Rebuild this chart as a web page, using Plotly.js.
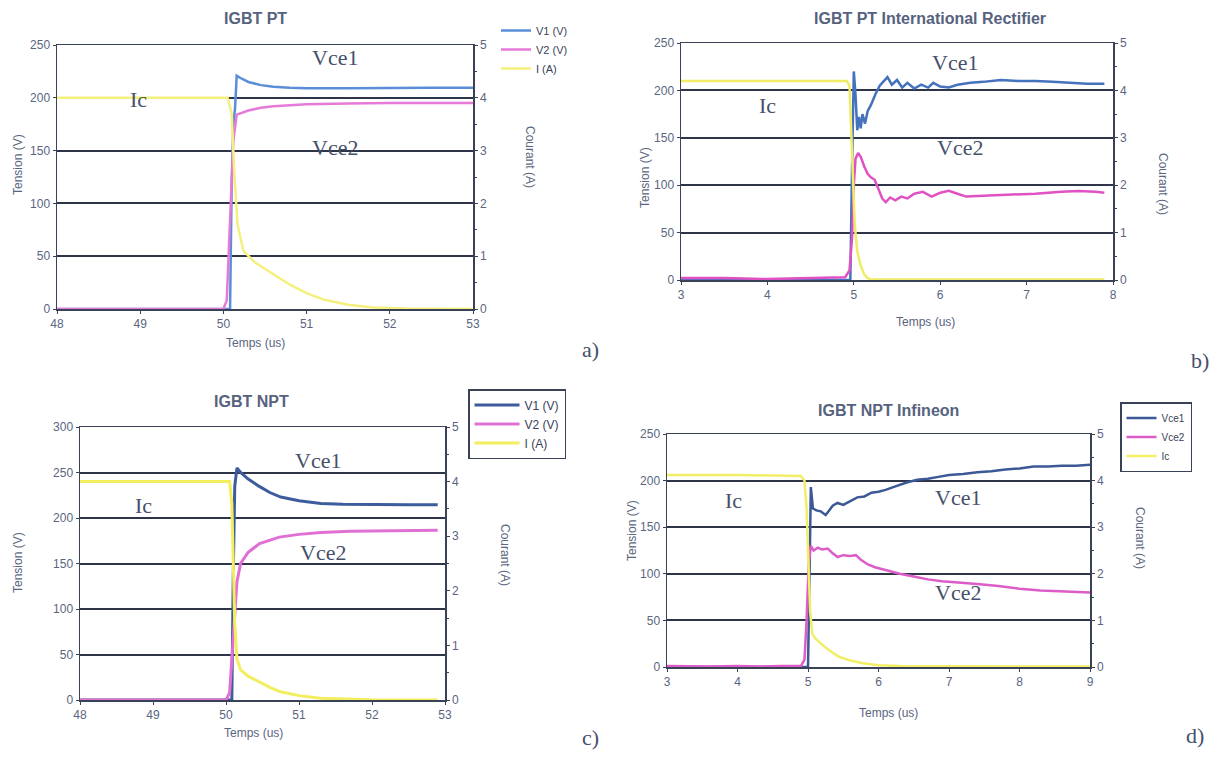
<!DOCTYPE html>
<html>
<head>
<meta charset="utf-8">
<script src="https://cdn.plot.ly/plotly-3.0.1.min.js"></script>
<style>html,body{margin:0;padding:0;background:#fff;}#chart{width:1221px;height:758px;}</style>
</head>
<body>
<div id="chart"></div>
<script>
// ---------- Data ----------
// Panel a: IGBT PT
const a_v1_t = [48, 50.08, 50.1, 50.12, 50.14, 50.16, 50.2, 50.3, 50.45, 50.6, 50.8, 51.0, 51.5, 52.0, 52.5, 53.0];
const a_v1_v = [0, 0, 120, 175, 190, 221, 219, 215, 212, 210.5, 209.5, 209, 209, 209.5, 209.5, 209.5];
const a_v2_t = [48, 49.0, 50.0, 50.04, 50.08, 50.12, 50.16, 50.2, 50.3, 50.45, 50.6, 50.8, 51.0, 51.5, 52.0, 53.0];
const a_v2_v = [0, 0, 0, 8, 80, 160, 184, 185, 188, 190.5, 192, 193, 194, 194.5, 195, 195];
const a_i_t = [48, 49, 50.05, 50.1, 50.13, 50.17, 50.2, 50.24, 50.38, 50.6, 50.8, 51.0, 51.2, 51.5, 51.8, 52.2, 53.0];
const a_i_v = [4.0, 4.0, 4.0, 3.7, 2.6, 1.6, 1.4, 1.1, 0.88, 0.66, 0.46, 0.3, 0.18, 0.08, 0.03, 0.01, 0];

// Panel b: IGBT PT International Rectifier
const b_v1_t = [3, 4.96, 4.98, 5.0, 5.02, 5.04, 5.06, 5.08, 5.1, 5.13, 5.16, 5.2, 5.25, 5.3, 5.35, 5.39, 5.44, 5.5, 5.56, 5.62, 5.7, 5.78, 5.86, 5.92, 6.0, 6.1, 6.2, 6.35, 6.5, 6.7, 6.9, 7.1, 7.3, 7.5, 7.7, 7.9];
const b_v1_v = [0, 0, 120, 220, 195, 158, 172, 160, 175, 165, 178, 185, 196, 205, 210, 214, 206, 211, 203, 208, 202, 206, 203, 208, 204, 203, 206, 208, 209, 211, 210, 210, 209, 208, 207, 207];
const b_v2_t = [3, 3.5, 4.0, 4.5, 4.9, 4.95, 4.98, 5.0, 5.02, 5.05, 5.08, 5.12, 5.16, 5.2, 5.24, 5.28, 5.33, 5.37, 5.42, 5.48, 5.55, 5.62, 5.7, 5.8, 5.9, 6.0, 6.1, 6.2, 6.3, 6.5, 6.8, 7.1, 7.4, 7.6, 7.8, 7.9];
const b_v2_v = [2, 2, 1, 2, 3, 10, 45, 100, 128, 134, 130, 120, 112, 108, 106, 97, 86, 82, 87, 84, 88, 86, 91, 93, 88, 92, 94, 91, 88, 89, 90, 91, 93, 94, 93, 92];
const b_i_t = [3, 4.0, 4.92, 4.95, 4.98, 5.01, 5.04, 5.08, 5.12, 5.16, 5.2, 6, 7, 7.9];
const b_i_v = [4.2, 4.2, 4.2, 4.1, 2.8, 1.2, 0.6, 0.3, 0.12, 0.04, 0.01, 0.01, 0.01, 0.01];

// Panel c: IGBT NPT
const c_v1_t = [48, 50.08, 50.1, 50.12, 50.15, 50.2, 50.3, 50.45, 50.6, 50.75, 51.0, 51.3, 51.6, 52.0, 52.5, 52.9];
const c_v1_v = [0, 0, 140, 235, 255, 250, 243, 235, 228, 223, 219, 216, 215, 214.5, 214.5, 214.5];
const c_v2_t = [48, 49, 50.0, 50.05, 50.1, 50.15, 50.2, 50.3, 50.46, 50.6, 50.73, 51.0, 51.3, 51.7, 52.2, 52.9];
const c_v2_v = [0, 0, 0, 8, 70, 130, 150, 162, 172, 176, 179, 182, 184, 185.5, 186, 186.5];
const c_i_t = [48, 49, 50.05, 50.08, 50.1, 50.12, 50.15, 50.2, 50.3, 50.45, 50.6, 50.75, 51.0, 51.3, 51.6, 52.0, 52.9];
const c_i_v = [4.0, 4.0, 4.0, 3.6, 2.6, 1.4, 0.75, 0.55, 0.44, 0.33, 0.23, 0.15, 0.08, 0.03, 0.015, 0.005, 0];

// Panel d: IGBT NPT Infineon
const d_v1_t = [3, 5.0, 5.02, 5.04, 5.07, 5.12, 5.18, 5.25, 5.3, 5.35, 5.42, 5.5, 5.6, 5.7, 5.8, 5.9, 6.0, 6.1, 6.25, 6.4, 6.55, 6.7, 6.85, 7.0, 7.2, 7.4, 7.6, 7.8, 8.0, 8.2, 8.4, 8.6, 8.8, 9.0];
const d_v1_v = [0, 0, 90, 193, 170, 168, 167, 163, 168, 173, 176, 174, 178, 182, 183, 187, 188, 190, 194, 198, 201, 202, 204, 206, 207, 209, 210, 212, 213, 215, 215, 216, 216, 217];
const d_v2_t = [3, 3.3, 3.6, 4.0, 4.3, 4.6, 4.9, 4.95, 4.98, 5.01, 5.04, 5.08, 5.14, 5.2, 5.28, 5.35, 5.42, 5.5, 5.6, 5.68, 5.75, 5.85, 5.95, 6.1, 6.3, 6.5, 6.7, 6.9, 7.1, 7.4, 7.7, 8.0, 8.3, 8.6, 9.0];
const d_v2_v = [1, 0.5, 0.5, 1, 0.5, 1, 1, 8, 50, 110, 130, 125, 128, 126, 127, 122, 118, 120, 119, 120, 115, 110, 107, 104, 100, 97, 94, 92, 91, 89, 87, 84, 82, 81, 80];
const d_i_t = [3, 4, 4.9, 4.95, 4.98, 5.0, 5.03, 5.06, 5.1, 5.2, 5.3, 5.44, 5.6, 5.78, 6.0, 6.3, 7, 8, 9];
const d_i_v = [4.12, 4.12, 4.1, 4.0, 3.4, 2.4, 1.2, 0.72, 0.62, 0.48, 0.36, 0.22, 0.14, 0.08, 0.04, 0.02, 0.01, 0.01, 0.01];

// Labels
const titles = ["IGBT PT", "IGBT PT International Rectifier", "IGBT NPT", "IGBT NPT Infineon"];
const names_abc = ["V1 (V)", "V2 (V)", "I (A)"];
const names_d = ["Vce1", "Vce2", "Ic"];

// ---------- Styling ----------
const W = 1221, H = 758;
const fx = p => p / W, fy = p => 1 - p / H;
const AX = '#3a4258', GRID = '#2e3548', TXT = '#5a6580';
const TF = {family: 'Liberation Sans, Arial, sans-serif', size: 12, color: TXT};
const SERIF = {family: 'Liberation Serif, Times New Roman, serif', size: 22, color: '#46506a'};

function xax(l, r, range, dtick, anchor) {
  return {domain: [fx(l), fx(r)], range: range, dtick: dtick, tick0: range[0], anchor: anchor, showline: true, linecolor: AX, linewidth: 1.5,
    mirror: true, showgrid: false, zeroline: false, ticks: 'outside', ticklen: 3, tickcolor: AX, tickfont: TF, fixedrange: true};
}
function yax(t, b, range, dtick, anchor) {
  return {domain: [fy(b), fy(t)], range: range, dtick: dtick, tick0: 0, anchor: anchor, showline: true, linecolor: AX, linewidth: 1.5,
    showgrid: true, gridcolor: GRID, gridwidth: 2, zeroline: false, ticks: 'outside', ticklen: 3, tickcolor: AX, tickfont: TF, fixedrange: true};
}
function y2ax(over, anchor) {
  return {overlaying: over, anchor: anchor, side: 'right', range: [0, 5], dtick: 1, tick0: 0, showline: true, linecolor: AX, linewidth: 1.5,
    showgrid: false, zeroline: false, ticks: 'outside', ticklen: 3, tickcolor: AX, tickfont: TF, fixedrange: true,
    minor: {ticks: 'outside', ticklen: 2, dtick: 0.5, tickcolor: AX}};
}

const C = {
  a: ['#5b8ed8', '#e67ad8', '#f4f07e'],
  b: ['#4472bd', '#e052c4', '#f0ec66'],
  c: ['#3d5c9c', '#e070d4', '#f2ee5e'],
  d: ['#3c5896', '#dc5cc8', '#f2ee66']
};

function tr(t, v, xa, ya, color, name, legend, show, w) {
  return {x: t, y: v, xaxis: xa, yaxis: ya, type: 'scatter', mode: 'lines', name: name,
    line: {color: color, width: w || 2.5}, legend: legend, showlegend: show, hoverinfo: 'skip'};
}

const data = [
  tr(a_v1_t, a_v1_v, 'x', 'y', C.a[0], names_abc[0], 'legend', true),
  tr(a_v2_t, a_v2_v, 'x', 'y', C.a[1], names_abc[1], 'legend', true),
  tr(a_i_t, a_i_v, 'x', 'y2', C.a[2], names_abc[2], 'legend', true),
  tr(b_v1_t, b_v1_v, 'x2', 'y3', C.b[0], names_abc[0], 'legend', false),
  tr(b_v2_t, b_v2_v, 'x2', 'y3', C.b[1], names_abc[1], 'legend', false),
  tr(b_i_t, b_i_v, 'x2', 'y4', C.b[2], names_abc[2], 'legend', false),
  tr(c_v1_t, c_v1_v, 'x3', 'y5', C.c[0], names_abc[0], 'legend2', true, 3),
  tr(c_v2_t, c_v2_v, 'x3', 'y5', C.c[1], names_abc[1], 'legend2', true, 3),
  tr(c_i_t, c_i_v, 'x3', 'y6', C.c[2], names_abc[2], 'legend2', true, 3),
  tr(d_v1_t, d_v1_v, 'x4', 'y7', C.d[0], names_d[0], 'legend3', true),
  tr(d_v2_t, d_v2_v, 'x4', 'y7', C.d[1], names_d[1], 'legend3', true),
  tr(d_i_t, d_i_v, 'x4', 'y8', C.d[2], names_d[2], 'legend3', true)
];

function ann(text, px, py, font, extra) {
  return Object.assign({text: text, x: fx(px), y: fy(py), xref: 'paper', yref: 'paper', showarrow: false,
    xanchor: 'center', yanchor: 'middle', font: font}, extra || {});
}
const TITLEF = {family: 'Liberation Sans, Arial, sans-serif', size: 16, color: '#56627e', weight: 'bold'};
const AXT = {family: 'Liberation Sans, Arial, sans-serif', size: 12, color: TXT};

const annotations = [
  ann('<b>' + titles[0] + '</b>', 255, 19, TITLEF),
  ann('<b>' + titles[1] + '</b>', 930, 19, TITLEF),
  ann('<b>' + titles[2] + '</b>', 252, 401, TITLEF),
  ann('<b>' + titles[3] + '</b>', 888, 410, TITLEF),
  // axis titles
  ann('Tension (V)', 18, 165, AXT, {textangle: -90}),
  ann('Tension (V)', 645, 178, AXT, {textangle: -90}),
  ann('Tension (V)', 18, 563, AXT, {textangle: -90}),
  ann('Tension (V)', 632, 530, AXT, {textangle: -90}),
  ann('Courant (A)', 530, 157, AXT, {textangle: 90}),
  ann('Courant (A)', 1163, 184, AXT, {textangle: 90}),
  ann('Courant (A)', 505, 555, AXT, {textangle: 90}),
  ann('Courant (A)', 1140, 538, AXT, {textangle: 90}),
  ann('Temps (us)', 255, 343, AXT),
  ann('Temps (us)', 925, 322, AXT),
  ann('Temps (us)', 253, 733, AXT),
  ann('Temps (us)', 888, 713, AXT),
  // panel letters
  ann('a)', 590, 350, SERIF),
  ann('b)', 1200, 360, SERIF),
  ann('c)', 590, 737, SERIF),
  ann('d)', 1195, 735, SERIF),
  // curve labels
  ann('Vce1', 335, 57, SERIF), ann('Ic', 138, 100, SERIF), ann('Vce2', 335, 148, SERIF),
  ann('Vce1', 955, 62, SERIF), ann('Ic', 767, 105, SERIF), ann('Vce2', 960, 148, SERIF),
  ann('Vce1', 318, 460, SERIF), ann('Ic', 143, 505, SERIF), ann('Vce2', 323, 552, SERIF),
  ann('Ic', 733, 500, SERIF), ann('Vce1', 958, 497, SERIF), ann('Vce2', 958, 592, SERIF)
];

const LF = {family: 'Liberation Sans, Arial, sans-serif', size: 11, color: '#3a4258'};
const layout = {
  width: W, height: H, margin: {l: 0, r: 0, t: 0, b: 0}, paper_bgcolor: '#fff', plot_bgcolor: '#fff',
  showlegend: true, hovermode: false,
  xaxis: xax(57, 473, [48, 53], 1, 'y'),
  yaxis: yax(45, 309, [0, 250], 50, 'x'),
  yaxis2: y2ax('y', 'x'),
  xaxis2: xax(681, 1113, [3, 8], 1, 'y3'),
  yaxis3: yax(43, 280, [0, 250], 50, 'x2'),
  yaxis4: y2ax('y3', 'x2'),
  xaxis3: xax(80, 445, [48, 53], 1, 'y5'),
  yaxis5: yax(427, 700, [0, 300], 50, 'x3'),
  yaxis6: y2ax('y5', 'x3'),
  xaxis4: xax(667, 1090, [3, 9], 1, 'y7'),
  yaxis7: yax(434, 667, [0, 250], 50, 'x4'),
  yaxis8: y2ax('y7', 'x4'),
  legend: {x: fx(496), y: fy(16), xanchor: 'left', yanchor: 'top', bgcolor: 'rgba(0,0,0,0)', borderwidth: 0, font: LF, tracegroupgap: 0},
  legend2: {x: fx(468), y: fy(389), xanchor: 'left', yanchor: 'top', bgcolor: '#fff', bordercolor: '#3a4258', borderwidth: 1.5,
    font: {family: LF.family, size: 12, color: LF.color}, itemwidth: 45},
  legend3: {x: fx(1120), y: fy(402), xanchor: 'left', yanchor: 'top', bgcolor: '#fff', bordercolor: '#3a4258', borderwidth: 1.5,
    font: {family: LF.family, size: 10, color: LF.color}},
  annotations: annotations
};

Plotly.newPlot('chart', data, layout, {displayModeBar: false, staticPlot: true});
</script>
</body>
</html>
